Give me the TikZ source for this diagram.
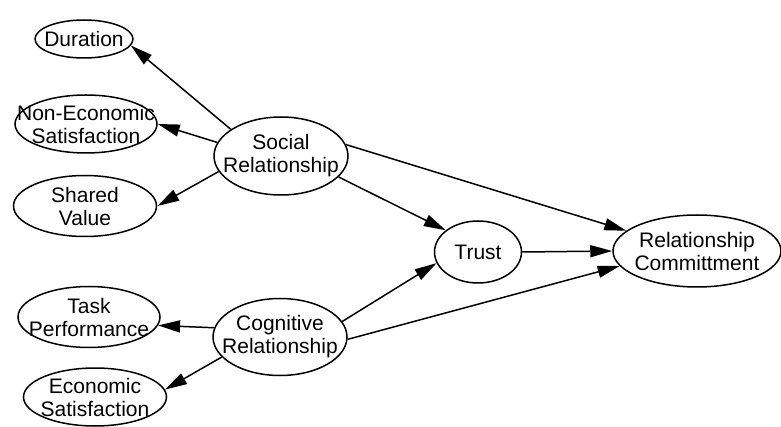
\documentclass[tikz,border=0pt]{standalone}
\usepackage{fontspec}
\setmainfont{Liberation Sans}
\usetikzlibrary{shapes.geometric,arrows.meta}
\begin{document}
\begin{tikzpicture}[x=1pt,y=-1pt,
  ell/.style 2 args={ellipse, draw, line width=1.5pt, inner sep=0pt, minimum width=#1pt, minimum height=#2pt},
  txt/.style={align=center, inner sep=0pt, font=\fontsize{21}{23}\selectfont},
  arr/.style={line width=1.5pt, -{Triangle[length=22pt,width=12pt]}}]
\useasboundingbox (0,0) rectangle (781,427);
\node[ell={98}{38}, label={[txt]center:Duration}] (dur) at (84,39) {};
\node[ell={142}{58}, label={[txt]center:Non-Economic\\Satisfaction}] (nes) at (86,124) {};
\node[ell={143}{61}, label={[txt]center:Shared\\Value}] (sv) at (85,206) {};
\node[ell={134}{78}, label={[txt]center:Social\\Relationship}] (sr) at (281,156) {};
\node[ell={87}{62}, label={[txt]center:Trust}] (tr) at (478,252) {};
\node[ell={168}{72}, label={[txt]center:Relationship\\Committment}] (rc) at (697,251) {};
\node[ell={142}{61}, label={[txt]center:Task\\Performance}] (tp) at (89,317) {};
\node[ell={134}{77}, label={[txt]center:Cognitive\\Relationship}] (cr) at (280,337) {};
\node[ell={143}{58}, label={[txt]center:Economic\\Satisfaction}] (es) at (95,397) {};
\draw[arr] (sr.152) -- (dur.352);
\draw[arr] (sr.168) -- (nes.0);
\draw[arr] (sr.194) -- (sv.0);
\draw[arr] (sr.340) -- (tr.146);
\draw[arr] (sr.10) -- (rc.164);
\draw[arr] (tr.0) -- (rc.180);
\draw[arr] (cr.14) -- (tr.195);
\draw[arr] (cr.358) -- (rc.191);
\draw[arr] (cr.172) -- (tp.353);
\draw[arr] (cr.199) -- (es.6);
\end{tikzpicture}
\end{document}
